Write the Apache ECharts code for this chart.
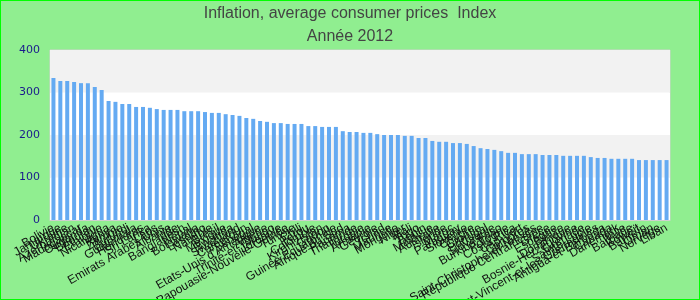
<!DOCTYPE html>
<html>
<head>
<meta charset="utf-8">
<script src="https://cdn.jsdelivr.net/npm/echarts@6/dist/echarts.min.js"></script>
<style>
  html, body { margin: 0; padding: 0; }
  #chart { width: 698px; height: 298px; border: 1px solid #00ff00; background: #90ee90; }
</style>
</head>
<body>
<div id="chart"></div>
<script>
const countries = [
  "Bolivie", "Jamaïque", "Ukraine", "Azerbaïdjan", "Madagascar", "Ouganda", "Bhoutan", "Ethiopie",
  "Nicaragua", "Kenya", "Zambie", "Burundi", "Guatemala", "Honduras", "Sri Lanka", "Laos",
  "Emirats Arabes Unis", "Albanie", "Inde", "Bangladesh", "Népal", "Botswana", "Lesotho", "Namibie",
  "Brésil", "Mexique", "Rwanda", "Swaziland", "Cameroun", "Sénégal", "Etats-Unis d'Amérique", "Algérie",
  "Trinité-et-Tobago", "Jordanie", "Papouasie-Nouvelle-Guinée", "Tunisie", "Chili", "Pérou", "Colombie", "Kirghizistan",
  "Gabon", "Guinée Equatoriale", "Afrique du Sud", "Panama", "Thaïlande", "Turquie", "Arménie", "Géorgie",
  "Tchad", "Maurice", "Mongolie", "Niger", "Mali", "Togo", "Bénin", "Malaisie",
  "Australie", "Islande", "Maroc", "Paraguay", "Slovénie", "Chypre", "Croatie", "Portugal",
  "Slovaquie", "Burkina Faso", "Pologne", "Costa Rica", "Cap-Vert", "Comores", "Saint-Christophe-et-Niévès", "République Centrafricaine",
  "Grèce", "Espagne", "Belize", "Dominique", "Bosnie-Herzégovine", "Grenade", "Sainte-Lucie", "Saint-Vincent-et-les Grenadines",
  "Antigua-et-Barbuda", "Canada", "Danemark", "Italie", "Barbade", "Koweït", "Bahreïn", "Oman",
  "Norvège", "Liban"
]

const values = [
  334, 327, 327, 325, 322, 322, 313, 306, 280, 278, 273, 273, 266, 266, 264, 261,
  259, 259, 259, 256, 256, 256, 254, 252, 252, 249, 247, 245, 240, 238, 233, 231,
  228, 228, 226, 226, 226, 221, 221, 219, 219, 219, 209, 207, 207, 205, 205, 202,
  200, 200, 200, 198, 198, 193, 193, 186, 184, 184, 181, 181, 179, 174, 169, 167,
  165, 162, 158, 158, 155, 155, 155, 153, 153, 153, 151, 151, 151, 151, 148, 146,
  146, 144, 144, 144, 144, 141, 141, 141, 141, 141
]

const yTicks = [0, 100, 200, 300, 400]

const chart = echarts.init(document.querySelector("#chart"))
chart.setOption({
  animation: false,
  title: {
    text: "Inflation, average consumer prices  Index",
    subtext: "Année 2012",
    left: "center",
    top: 0,
    padding: 5,
    itemGap: 7,
    textStyle: { fontFamily: "Liberation Sans", fontSize: 16, fontWeight: "normal", color: "#444" },
    subtextStyle: { fontFamily: "Liberation Sans", fontSize: 16, color: "#444" }
  },
  grid: {
    left: 49, right: 29, top: 49, bottom: 79,
    outerBoundsMode: "none",
    containLabel: false,
    show: true,
    borderColor: "#d0d0d0",
    borderWidth: 1,
    backgroundColor: "#fff"
  },
  xAxis: {
    type: "category",
    data: countries,
    axisTick: { show: false },
    axisLine: { lineStyle: { color: "#d0d0d0" } },
    axisLabel: {
      interval: 0,
      rotate: 30,
      margin: 7,
      fontFamily: "Liberation Sans",
      fontSize: 12,
      color: "#111"
    }
  },
  yAxis: {
    type: "value",
    min: yTicks[0],
    max: yTicks[yTicks.length - 1],
    interval: 100,
    axisLine: { show: false },
    axisTick: { show: false },
    splitLine: { show: false },
    splitArea: { show: true, areaStyle: { color: ["#ffffff", "#f2f2f2"] } },
    axisLabel: {
      margin: 10,
      fontFamily: "DejaVu Sans",
      fontSize: 11,
      color: "#1a1a8c"
    }
  },
  series: [{
    type: "bar",
    data: values,
    barCategoryGap: "42%",
    itemStyle: { color: "#64aaf2" }
  }]
})
</script>
</body>
</html>
